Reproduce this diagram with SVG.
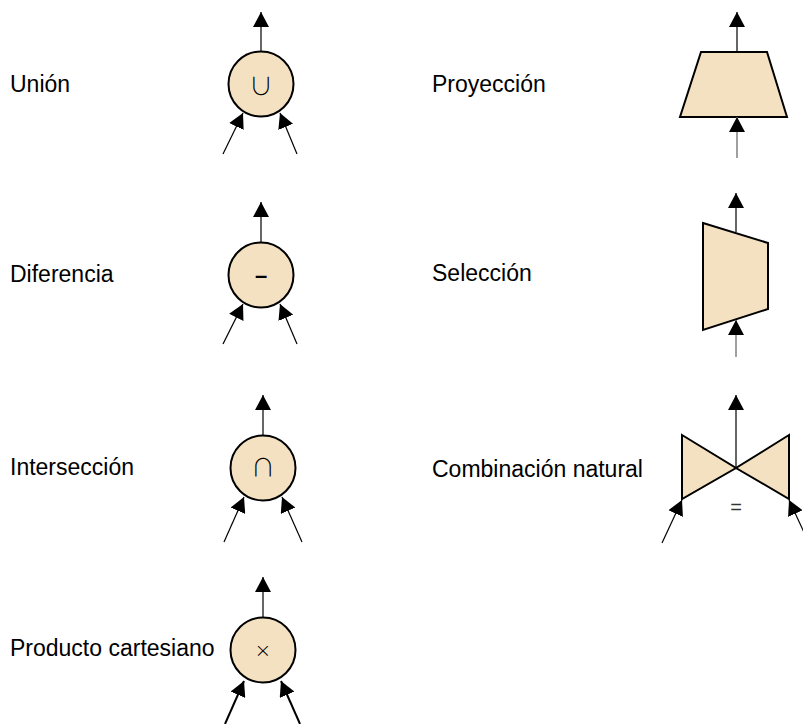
<svg xmlns="http://www.w3.org/2000/svg" width="803" height="724" viewBox="0 0 803 724">
  <style>
    .label { font-family: "Liberation Sans", Arial, sans-serif; font-size: 23px; fill: #000; }
    .shape { fill: #F4E1C1; stroke: #000; stroke-width: 2; }
    .sym { font-family: "DejaVu Sans", sans-serif; font-weight: 200; fill: #000; text-anchor: middle; }
    .setop { font-family: "Noto Sans CJK JP", "DejaVu Sans", sans-serif; font-weight: 300; fill: #000; text-anchor: middle; }
    .edge { fill: none; stroke: #000; stroke-width: 1.2; marker-end: url(#arrow); }
    .edge-gray { fill: none; stroke: #808080; stroke-width: 1.5; marker-end: url(#arrow); }
    .edge-bold { fill: none; stroke: #000; stroke-width: 2; marker-end: url(#arrow); }
  </style>
  <defs>
    <marker id="arrow" viewBox="0 0 15 16" markerWidth="15" markerHeight="16" refX="15" refY="8" orient="auto" markerUnits="userSpaceOnUse">
      <path d="M0,0 L15,8 L0,16 Z" fill="#000"/>
    </marker>
  </defs>

  <rect width="803" height="724" fill="#fff"/>

  <!-- labels -->
  <g id="labels">
    <text class="label" x="10" y="92">Unión</text>
    <text class="label" x="10" y="282">Diferencia</text>
    <text class="label" x="10" y="475">Intersección</text>
    <text class="label" x="10" y="656">Producto cartesiano</text>
    <text class="label" x="432" y="92">Proyección</text>
    <text class="label" x="432" y="281">Selección</text>
    <text class="label" x="432" y="477">Combinación natural</text>
  </g>

  <!-- operator nodes -->
  <g id="union">
    <circle class="shape" cx="261" cy="84" r="32.5"/>
    <text class="setop" x="261" y="95" font-size="24">∪</text>
  </g>
  <g id="difference">
    <circle class="shape" cx="261" cy="275" r="32.5"/>
    <text x="261" y="283" font-family="Liberation Sans, Arial, sans-serif" font-size="22" font-weight="bold" text-anchor="middle">–</text>
  </g>
  <g id="intersection">
    <circle class="shape" cx="263" cy="468" r="32.5"/>
    <text class="setop" x="263" y="476" font-size="24">∩</text>
  </g>
  <g id="product">
    <circle class="shape" cx="263" cy="650" r="32.5"/>
    <text class="sym" x="263" y="657" font-size="20">×</text>
  </g>
  <g id="projection">
    <polygon class="shape" points="701,52 767,52 787,117 680,117"/>
  </g>
  <g id="selection">
    <polygon class="shape" points="703,223 768,243 768,309 703,330"/>
  </g>
  <g id="natural-join">
    <polygon class="shape" points="682,435 736,468 682,499"/>
    <polygon class="shape" points="789,435 736,468 789,499"/>
    <text x="736" y="514" font-family="Liberation Sans, Arial, sans-serif" font-size="20" fill="#333" text-anchor="middle">=</text>
  </g>

  <!-- connectors -->
  <g id="connectors">
    <line class="edge" x1="261" y1="51.5" x2="261" y2="12"/>
    <line class="edge" x1="223" y1="154" x2="243" y2="113"/>
    <line class="edge" x1="297" y1="154" x2="280" y2="113"/>

    <line class="edge" x1="261" y1="242.5" x2="261" y2="202"/>
    <line class="edge" x1="223" y1="344" x2="243" y2="304"/>
    <line class="edge" x1="297" y1="344" x2="280" y2="304"/>

    <line class="edge" x1="263" y1="435.5" x2="263" y2="395"/>
    <line class="edge" x1="224" y1="542" x2="244" y2="497"/>
    <line class="edge" x1="302" y1="542" x2="282" y2="497"/>

    <line class="edge" x1="263" y1="617.5" x2="263" y2="577"/>
    <line class="edge-bold" x1="225" y1="724" x2="244" y2="681"/>
    <line class="edge-bold" x1="300" y1="724" x2="281" y2="681"/>

    <line class="edge" x1="737" y1="52" x2="737" y2="12"/>
    <line class="edge-gray" x1="737" y1="158" x2="737" y2="117"/>

    <line class="edge" x1="736" y1="232" x2="736" y2="193"/>
    <line class="edge-gray" x1="736" y1="357" x2="736" y2="320"/>

    <line class="edge" x1="736" y1="468" x2="736" y2="395"/>
    <line class="edge" x1="662" y1="543" x2="682" y2="500"/>
    <line class="edge" x1="809" y1="543" x2="789" y2="500"/>
  </g>
</svg>
